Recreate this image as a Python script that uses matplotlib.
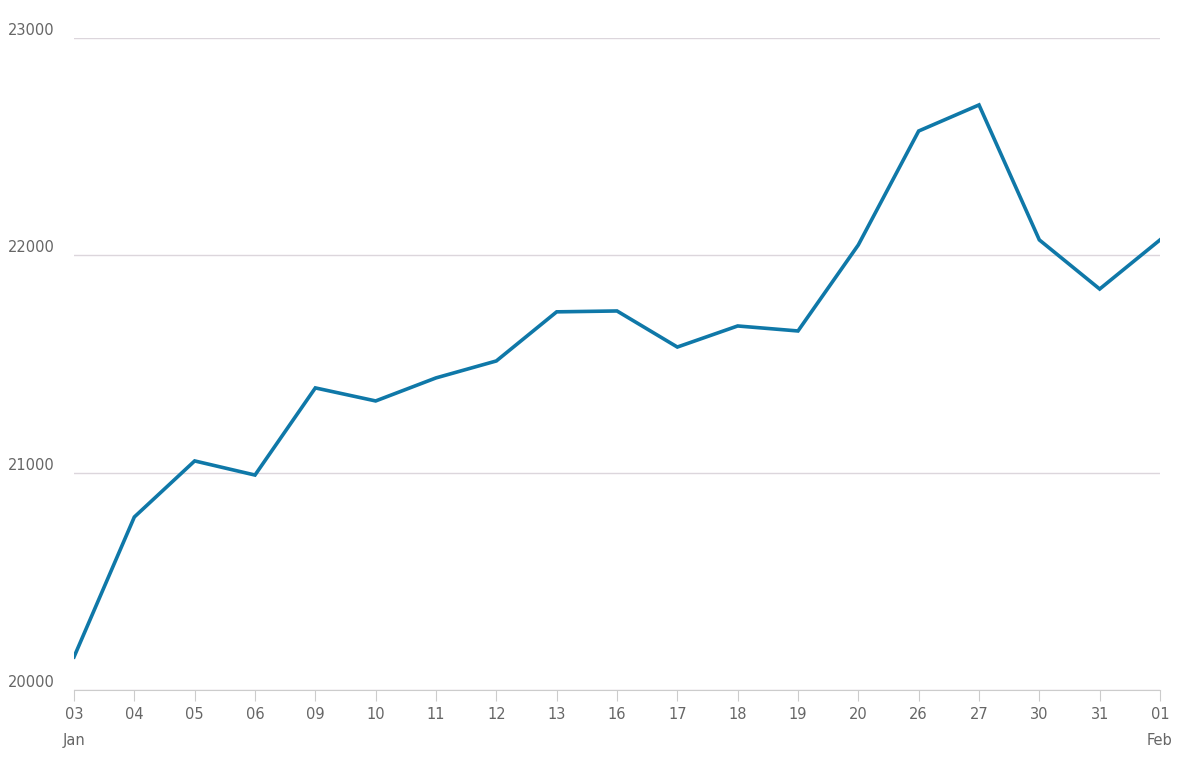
import matplotlib.pyplot as plt

days = ["03","04","05","06","09","10","11","12","13","16","17","18","19","20","26","27","30","31","01"]
months = {0: "Jan", 18: "Feb"}
values = [20152,20796,21054,20989,21390,21330,21436,21514,21740,21744,21578,21675,21652,22048,22572,22692,22071,21845,22071]
yticks = [20000, 21000, 22000, 23000]

fig = plt.figure(figsize=(12.03, 7.72), dpi=100)
ax = fig.add_axes([74/1203, 1-690/772, (1160-74)/1203, (690-38)/772])
x = list(range(len(values)))
ax.plot(x, values, color="#0f78a8", lw=2.6, solid_joinstyle="miter")
ax.set_xlim(0, len(values)-1)
ax.set_ylim(20000, 23000)
ax.set_yticks(yticks)
ax.set_yticklabels([str(v) for v in yticks])
labels = [d + ("\n\n" + months[i] if i in months else "\n\n") for i, d in enumerate(days)]
ax.set_xticks(x)
ax.set_xticklabels(labels, linespacing=0.85)
for s in ["top", "right", "left"]:
    ax.spines[s].set_visible(False)
ax.spines["bottom"].set_color("#cccccc")
ax.grid(axis="y", color="#dcd6dc", lw=1)
ax.set_axisbelow(True)
ax.tick_params(axis="y", length=0, labelsize=10.5, labelcolor="#666666", pad=14)
ax.tick_params(axis="x", length=8, color="#cccccc", labelsize=10.5, labelcolor="#666666", pad=4)
for lab in ax.get_yticklabels():
    lab.set_verticalalignment("bottom")
fig.savefig("out.png", dpi=100)
